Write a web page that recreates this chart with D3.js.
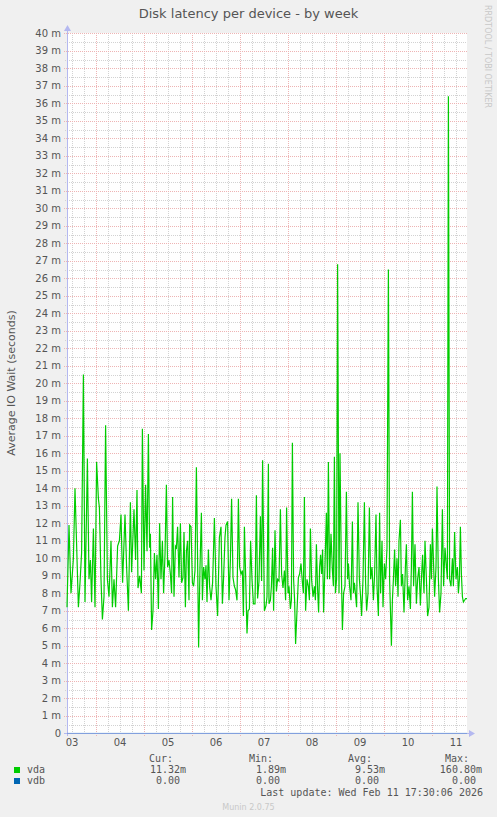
<!DOCTYPE html>
<html>
<head>
<meta charset="utf-8">
<script src="https://cdn.jsdelivr.net/npm/d3@7"></script>
<style>
    html, body { margin: 0; padding: 0; background: #f0f0f0; }
    svg { display: block; }
</style>
</head>
<body>
<div id="div-latency"></div>
<script>
/**
 * munin "diskstats_latency" week graph, redrawn with d3
 * values are in milliseconds (axis shows "m" suffix)
 */

var title = "Disk latency per device - by week";
var yTitle = "Average IO Wait (seconds)";
var sideText = "RRDTOOL / TOBI OETIKER";
var footer = "Munin 2.0.75";
var lastUpdate = "Last update: Wed Feb 11 17:30:06 2026";

// graph window (UTC), 200 hours
var startTime = Date.UTC(2026, 1, 3, 9, 30);
var endTime = Date.UTC(2026, 1, 11, 17, 30);

// y ticks, in ms
var yMax = 40;

// vda: hours since startTime / average wait in ms
var vdaHours = [
    0, 1, 2, 3.2, 4, 5.7, 6.5, 7.3, 8.2, 9, 10.2, 11, 11.7, 12.3, 13.2, 14, 14.8, 15.7, 16.2, 17,
    17.7, 18.5, 19.3, 20.2, 21, 22, 22.7, 23.5, 24.3, 25.3, 26.2, 27, 27.8, 29, 29.8, 30.7, 31.7, 32.3, 33.5,
    34.3, 35, 35.5, 36.3, 37.2, 37.7, 38.5, 39.3, 40, 40.7, 41.3, 41.7, 42.3, 43, 43.7, 44.3, 45, 45.7, 46.3, 47,
    47.7, 48.3, 49, 49.7, 50.3, 51, 51.7, 52.3, 52.8, 53.5, 54.2, 54.7, 55.3, 56, 56.7, 57.3, 58, 58.5, 59.2, 59.7,
    60.3, 61, 61.3, 62, 62.7, 63.3, 64, 64.7, 65.3, 65.8, 66.5, 67.2, 67.7,
    68.3, 69, 69.5, 70, 70.7, 71.3, 72, 72.8, 73.7, 74.5, 75.3, 76.2, 77, 77.7, 78.3, 79, 79.5, 80.3, 81, 81.7,
    82.3, 83, 83.7, 84.3, 85, 85.7, 86.3, 87, 87.7, 88.2, 88.7, 89.3, 90, 90.5, 91.2, 91.8, 92.5, 93.2, 94, 94.7,
    95.3, 96, 96.7, 97.3, 97.8, 98.7, 99.5, 100, 100.7,
    101, 101.7, 102.2, 102.8, 103.3, 104, 104.7, 105.3, 106, 106.7, 107.3, 108, 108.7, 109.3, 109.8, 110.5, 111, 111.7, 112.2, 112.7,
    113.3, 113.8, 114.3, 115, 115.7, 116.3, 117, 117.7, 118.2, 118.7, 119.3, 120, 120.7, 121.2, 121.7, 122.3, 123, 123.7, 124.2, 124.7,
    125.3, 125.8, 126.3, 126.8, 127.3, 127.8, 128.3, 129, 129.7, 130.2, 130.7, 131.3, 132, 132.7, 133.2, 133.7,
    134.2, 134.8, 135.3, 136, 136.5, 137.2, 137.7, 138.3, 139, 139.7, 140.3, 140.7, 141.3, 142, 142.7, 143.2, 143.7, 144.2, 144.8, 145.5,
    146.2, 146.8, 147.3, 148, 148.7, 149.3, 149.8, 150.5, 151.2, 151.8, 152.5, 153.2, 153.8, 154.5, 155, 155.7, 156.3, 156.8, 157.5, 158,
    158.7, 159.3, 160, 160.7, 161.3, 162.2, 162.7, 163.2, 163.8, 164.3, 165, 165.5, 166, 166.7,
    167.2, 167.8, 168.5, 169.2, 169.7, 170.3, 171, 171.7, 172.2, 172.7, 173.3, 174, 174.7, 175.3, 176, 176.7, 177.2, 177.8, 178.5, 179,
    179.7, 180.3, 181, 181.7, 182.2, 182.7, 183.2, 183.8, 184.5, 185, 185.7, 186.3, 187, 187.7, 188.3, 189, 189.7, 190.2, 190.7, 191.3,
    192, 192.7, 193.2, 193.8, 194.5, 195.2, 195.7, 196.2, 196.7, 197.2, 197.7, 198.2, 198.8, 199.3, 200
];
var vda = [
    7.2, 11.9, 8.0, 10.0, 14.0, 7.2, 8.6, 10.3, 20.5, 7.5, 15.7, 8.8, 9.9, 7.5, 11.7, 7.2, 15.5, 13.4, 12.9, 8.8,
    6.5, 7.8, 17.6, 8.8, 7.8, 11.0, 7.2, 8.8, 7.2, 10.7, 11.0, 12.5, 8.6, 12.5, 9.5, 7.0, 13.2, 9.2, 12.8,
    9.9, 13.9, 8.3, 9.0, 8.0, 17.4, 9.3, 14.2, 10.4, 17.1, 10.6, 11.4, 5.9, 7.0, 10.3, 8.8, 10.2, 7.1, 12.0, 8.8,
    11.0, 8.0, 10.2, 14.2, 9.5, 9.9, 9.1, 8.0, 13.5, 7.8, 10.7, 10.6, 11.8, 8.9, 12.0, 8.6, 8.9, 11.5, 7.2, 10.4,
    11.0, 7.6, 11.9, 11.8, 8.6, 8.4, 9.3, 15.2, 9.9, 4.9, 9.5, 12.6, 7.6,
    9.5, 8.8, 9.6, 7.5, 10.5, 8.4, 7.6, 8.6, 12.3, 8.4, 6.7, 11.2, 11.8, 7.4, 8.9, 11.2, 11.9, 12.1, 7.6, 9.9,
    13.4, 8.9, 8.4, 8.2, 7.6, 13.4, 9.5, 9.1, 9.3, 6.7, 11.8, 9.1, 5.7, 7.0, 7.1, 11.0, 8.8, 7.4, 7.4, 13.6,
    7.7, 8.7, 12.4, 8.7, 15.6, 7.0, 7.3, 7.8, 15.4,
    7.4, 7.6, 8.4, 10.6, 7.0, 11.6, 8.1, 8.8, 8.7, 12.8, 9.1, 8.3, 9.3, 7.6, 12.9, 8.0, 8.4, 7.1, 7.6, 16.6,
    8.8, 7.6, 5.1, 7.0, 8.9, 9.1, 9.7, 8.6, 8.0, 13.5, 7.0, 8.8, 8.4, 7.6, 11.7, 8.8, 7.8, 8.4, 7.6, 10.8,
    8.2, 6.9, 9.5, 10.2, 9.1, 10.5, 6.9, 9.6, 12.6, 8.8, 15.5, 8.8, 11.4, 9.3, 8.4, 15.8,
    8.0, 8.8, 26.8, 8.0, 16.0, 9.1, 5.9, 8.0, 8.4, 13.8, 8.8, 9.7, 8.4, 7.6, 12.1, 8.0, 8.6, 8.0, 7.2, 13.2,
    8.8, 7.8, 6.7, 8.8, 13.2, 8.6, 7.0, 8.0, 12.9, 8.8, 9.5, 7.6, 9.1, 12.5, 8.4, 6.7, 12.6, 8.0, 11.0, 7.2,
    9.7, 8.8, 10.6, 26.5, 8.8, 5.0, 7.6, 8.8, 10.5, 8.4, 10.0, 7.8, 11.0, 12.2,
    8.4, 9.1, 6.9, 9.5, 10.8, 7.6, 8.4, 7.1, 9.5, 13.8, 8.4, 10.8, 7.4, 8.8, 9.5, 7.3, 8.8, 10.2, 8.0, 11.0,
    8.8, 6.7, 7.2, 10.8, 8.8, 11.7, 10.0, 7.8, 9.5, 14.1, 8.8, 6.9, 8.0, 12.8, 8.4, 10.6, 9.5, 8.8, 36.4, 8.8,
    8.4, 10.0, 8.4, 11.5, 8.8, 9.5, 8.0, 8.8, 11.8, 9.1, 7.8, 7.5, 7.6, 7.7, 7.7
];

// vdb stayed at zero the whole week
var vdbHours = [0, 200];
var vdb = [0, 0];

// legend
var legendNames = ["vda", "vdb"];
var legendColors = ["#00cc00", "#0066b3"];
var legendHeads = ["Cur:", "Min:", "Avg:", "Max:"];
var legendCur = ["11.32m", "0.00"];
var legendMin = ["1.89m", "0.00"];
var legendAvg = ["9.53m", "0.00"];
var legendMax = ["160.80m", "0.00"];

function LatencyGraph() {

    var lg = this;

    lg.createSVG = createSVG;
    lg.drawGrid = drawGrid;
    lg.drawSeries = drawSeries;
    lg.drawTexts = drawTexts;
    lg.drawLegend = drawLegend;

    /////////////////////////////////////

    function createSVG(selector) {
        var width = 497, height = 817;
        var plot = { left: 67, right: 467, top: 33, bottom: 733 };

        lg.svg = d3.select(selector).append("svg")
            .attr("width", width)
            .attr("height", height)
            .style("background", "#f0f0f0");

        lg.plot = plot;
        lg.x = d3.scaleUtc().domain([startTime, endTime]).range([plot.left, plot.right]);
        lg.y = d3.scaleLinear().domain([0, yMax]).range([plot.bottom + 0.3, plot.top + 0.3]);

        // white canvas behind the data
        lg.svg.append("rect")
            .attr("x", plot.left).attr("y", plot.top)
            .attr("width", plot.right - plot.left).attr("height", plot.bottom - plot.top)
            .attr("fill", "#fff");
    }

    function drawGrid() {
        var p = lg.plot, x = lg.x, y = lg.y;
        var g = lg.svg.append("g").attr("class", "grid");
        var minorColor = "#d2d2d2", majorColor = "#eeb4b4";

        // minor horizontal: every half ms
        var minorY = d3.range(0.5, yMax, 1);
        g.selectAll("line.hmin").data(minorY).enter().append("line")
            .attr("x1", p.left - 2).attr("x2", p.right)
            .attr("y1", function(d) { return Math.round(y(d)) + 0.5; })
            .attr("y2", function(d) { return Math.round(y(d)) + 0.5; })
            .attr("stroke", minorColor).attr("stroke-dasharray", "1,1");

        // minor vertical: every 6 hours
        var minorX = d3.utcHour.every(6).range(new Date(startTime), new Date(endTime))
            .filter(function(d) { return d.getUTCHours() !== 0; });
        g.selectAll("line.vmin").data(minorX).enter().append("line")
            .attr("x1", function(d) { return Math.round(x(d)) + 0.5; })
            .attr("x2", function(d) { return Math.round(x(d)) + 0.5; })
            .attr("y1", p.top).attr("y2", p.bottom + 2)
            .attr("stroke", minorColor).attr("stroke-dasharray", "1,1");

        // major horizontal: every ms
        var majorY = d3.range(1, yMax + 1, 1);
        g.selectAll("line.hmaj").data(majorY).enter().append("line")
            .attr("x1", p.left - 3).attr("x2", p.right)
            .attr("y1", function(d) { return Math.round(y(d)) + 0.5; })
            .attr("y2", function(d) { return Math.round(y(d)) + 0.5; })
            .attr("stroke", majorColor).attr("stroke-dasharray", "1,1");

        // major vertical: midnight
        var majorX = d3.utcDay.range(new Date(startTime), new Date(endTime));
        g.selectAll("line.vmaj").data(majorX).enter().append("line")
            .attr("x1", function(d) { return Math.round(x(d)) + 0.5; })
            .attr("x2", function(d) { return Math.round(x(d)) + 0.5; })
            .attr("y1", p.top).attr("y2", p.bottom + 3)
            .attr("stroke", majorColor).attr("stroke-dasharray", "1,1");

        // y tick labels
        var yLabels = d3.range(0, yMax + 1, 1);
        g.selectAll("text.ytick").data(yLabels).enter().append("text")
            .attr("x", 61)
            .attr("y", function(d) { return y(d) + 3.5; })
            .attr("text-anchor", "end")
            .style("font", "10px 'DejaVu Sans'")
            .attr("fill", "#555")
            .text(function(d) { return d === 0 ? "0" : d + " m"; });

        // x tick labels at noon
        var noons = d3.utcHour.range(new Date(startTime), new Date(endTime))
            .filter(function(d) { return d.getUTCHours() === 12; });
        g.selectAll("text.xtick").data(noons).enter().append("text")
            .attr("x", function(d) { return x(d); })
            .attr("y", 746)
            .attr("text-anchor", "middle")
            .style("font", "10px 'DejaVu Sans'")
            .attr("fill", "#555")
            .text(d3.utcFormat("%d"));
    }

    function drawSeries() {
        var x = lg.x, y = lg.y, p = lg.plot;

        var line = d3.line()
            .x(function(d) { return x(startTime + d[0] * 3600e3); })
            .y(function(d) { return y(d[1]); });

        var axisColor = "#b4b8f0";

        // axes with arrows
        lg.svg.append("line")
            .attr("x1", p.left + 0.5).attr("x2", p.left + 0.5)
            .attr("y1", p.bottom + 3).attr("y2", p.top - 4)
            .attr("stroke", axisColor);
        lg.svg.append("path")
            .attr("d", d3.line()([[p.left - 3, p.top - 2], [p.left + 0.5, p.top - 8], [p.left + 4, p.top - 2]]) + "Z")
            .attr("fill", axisColor);
        lg.svg.append("line")
            .attr("x1", p.left - 3).attr("x2", p.right + 3)
            .attr("y1", p.bottom + 0.5).attr("y2", p.bottom + 0.5)
            .attr("stroke", axisColor);
        lg.svg.append("path")
            .attr("d", d3.line()([[p.right + 2, p.bottom - 3], [p.right + 8, p.bottom + 0.5], [p.right + 2, p.bottom + 4]]) + "Z")
            .attr("fill", axisColor);

        var vdaData = d3.zip(vdaHours, vda);
        var vdbData = d3.zip(vdbHours, vdb);

        lg.svg.append("path")
            .datum(vdbData)
            .attr("d", line)
            .attr("fill", "none")
            .attr("stroke", legendColors[1])
            .attr("stroke-opacity", 0.35);

        lg.svg.append("path")
            .datum(vdaData)
            .attr("d", line)
            .attr("fill", "none")
            .attr("stroke", legendColors[0])
            .attr("stroke-width", 1.2)
            .attr("stroke-linejoin", "miter");
    }

    function drawTexts() {
        lg.svg.append("text")
            .attr("x", 248.5).attr("y", 18)
            .attr("text-anchor", "middle")
            .style("font", "13px 'DejaVu Sans'")
            .attr("fill", "#555")
            .text(title);

        lg.svg.append("text")
            .attr("transform", "translate(15," + ((lg.plot.top + lg.plot.bottom) / 2) + ") rotate(-90)")
            .attr("text-anchor", "middle")
            .style("font", "11px 'DejaVu Sans'")
            .attr("fill", "#555")
            .text(yTitle);

        lg.svg.append("text")
            .attr("transform", "translate(485,5) rotate(90)")
            .style("font", "8px 'DejaVu Sans'")
            .attr("fill", "#c8c8c8")
            .text(sideText);

        lg.svg.append("text")
            .attr("x", 248.5).attr("y", 810)
            .attr("text-anchor", "middle")
            .style("font", "8px 'DejaVu Sans'")
            .attr("fill", "#c8c8c8")
            .text(footer);
    }

    function drawLegend() {
        var mono = "10px 'DejaVu Sans Mono'";
        var colEnd = [186, 286, 385, 482];
        var columns = [legendCur, legendMin, legendAvg, legendMax];
        var rowY = [773, 784];
        var g = lg.svg.append("g").attr("class", "legend");

        g.selectAll("text.head").data(legendHeads).enter().append("text")
            .attr("x", function(d, i) { return colEnd[i] - 13; })
            .attr("y", 762)
            .attr("text-anchor", "end")
            .style("font", mono).attr("fill", "#555")
            .text(function(d) { return d; });

        legendNames.forEach(function(name, r) {
            g.append("rect")
                .attr("x", 14).attr("y", rowY[r] - 6)
                .attr("width", 6).attr("height", 6)
                .attr("fill", legendColors[r]);
            g.append("text")
                .attr("x", 27).attr("y", rowY[r])
                .style("font", mono).attr("fill", "#555")
                .text(name);

            columns.forEach(function(col, c) {
                var v = col[r];
                // values without SI prefix leave a blank where the unit would be
                var shift = /[a-zA-Z]$/.test(v) ? 0 : 6;
                g.append("text")
                    .attr("x", colEnd[c] - shift).attr("y", rowY[r])
                    .attr("text-anchor", "end")
                    .style("font", mono).attr("fill", "#555")
                    .text(v);
            });
        });

        g.append("text")
            .attr("x", 483).attr("y", 796)
            .attr("text-anchor", "end")
            .style("font", mono).attr("fill", "#555")
            .text(lastUpdate);
    }
}

(function() {
    var lg = new LatencyGraph();
    lg.createSVG("#div-latency");
    lg.drawGrid();
    lg.drawSeries();
    lg.drawTexts();
    lg.drawLegend();
})();
</script>
</body>
</html>
